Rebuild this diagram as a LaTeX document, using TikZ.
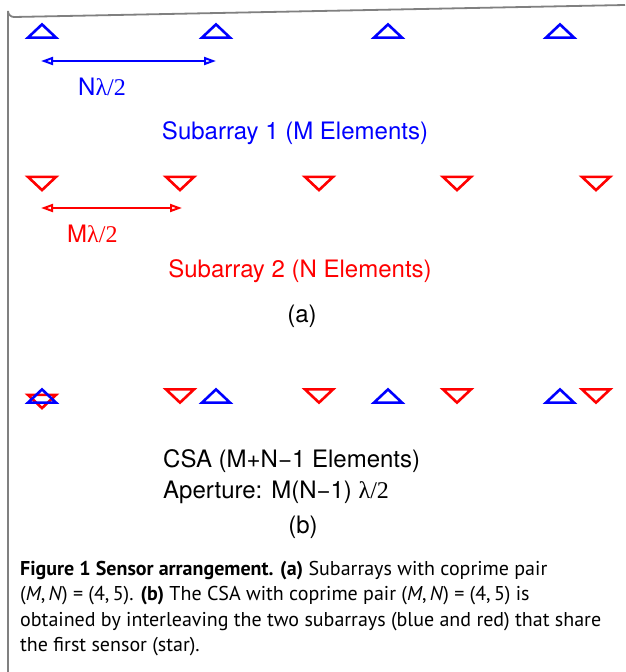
\documentclass[tikz,border=0pt]{standalone}
\usepackage{fontspec}
\setmainfont{TeX Gyre Heros}
\newfontfamily\capfont{PT Sans}
\newfontfamily\symfont{Liberation Serif}
\usetikzlibrary{arrows.meta}

\tikzset{
  pics/upsens/.style={code={\draw[line width=2.6pt] (-14,6.6) -- (0,-6.6) -- (14,6.6) -- cycle;}},
  pics/downsens/.style={code={\draw[line width=2.6pt] (-14,-6.6) -- (0,6.6) -- (14,-6.6) -- cycle;}},
  dimline/.style={line width=2pt,{Triangle[open,length=12pt,width=8pt]}-{Triangle[open,length=12pt,width=8pt]}},
  lbl/.style={font=\fontsize{24}{29}\selectfont,inner sep=0pt},
}

\begin{document}
\begin{tikzpicture}[x=1pt,y=-1pt]
\useasboundingbox (0,0) rectangle (625,672);
% frame
\draw[gray,line width=1.8pt] (8,672) -- (8,11) arc (180:90:6) -- (625,5);

% subarray 1
\foreach \i/\x in {1/42,2/216,3/388,4/560}{
  \coordinate (b\i) at (\x,31);
  \pic[blue] at (b\i) {upsens};
}
\coordinate (nl) at (41,61);
\coordinate (nr) at (216,61);
\draw[dimline,blue] (nl) -- (nr);
\node[lbl,blue,anchor=base west] (nlen) at (78,95) {N{\symfont λ/2}};
\node[lbl,blue,anchor=base] (sub1) at (295,139) {Subarray 1 (M Elements)};

% subarray 2
\foreach \i/\x in {1/42,2/180,3/319,4/457,5/596}{
  \coordinate (r\i) at (\x,183.5);
  \pic[red] at (r\i) {downsens};
}
\coordinate (ml) at (41,208);
\coordinate (mr) at (182,208);
\draw[dimline,red] (ml) -- (mr);
\node[lbl,red,anchor=base west] (mlen) at (67,242) {M{\symfont λ/2}};
\node[lbl,red,anchor=base] (sub2) at (300,277) {Subarray 2 (N Elements)};
\node[lbl,anchor=base] (parta) at (302,322) {(a)};

% CSA
\pic[red] at (42,401.5) {downsens};
\foreach \x in {180,319,457,596}
  \pic[red] at (\x,396) {downsens};
\foreach \x in {42,216,388,560}
  \pic[blue] at (\x,396) {upsens};
\node[lbl,anchor=base west] (csa) at (163,467) {CSA (M+N−1 Elements)};
\node[lbl,anchor=base west] (aper) at (163,498) {Aperture: M(N−1) {\symfont λ/2}};
\node[lbl,anchor=base] (partb) at (303,533) {(b)};

% caption
\node[anchor=north west,inner sep=0pt,align=left,
      font=\capfont\fontsize{20}{25.3}\selectfont] (caption) at (20,561)
  {\textbf{Figure 1 Sensor arrangement. (a)} Subarrays with coprime pair\\
   (\textit{M},\,\textit{N}) = (4,\,5). \textbf{(b)} The CSA with coprime pair (\textit{M},\,\textit{N}) = (4,\,5) is\\
   obtained by interleaving the two subarrays (blue and red) that share\\
   the first sensor (star).};
\end{tikzpicture}
\end{document}
